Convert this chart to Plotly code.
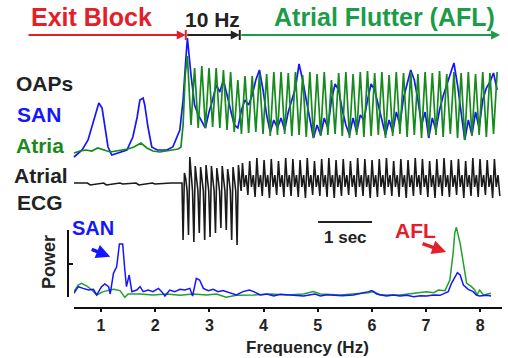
import numpy as np
import plotly.graph_objects as go

# ---------------- DATA ----------------
# Optical action potentials (time in s, amplitude in arbitrary units)
pre_green_t = [0.00, 0.11, 0.22, 0.33, 0.44, 0.56, 0.67, 0.78, 0.89, 1.00, 1.11, 1.24, 1.35,
               1.46, 1.59, 1.70, 1.81, 1.93, 1.98, 2.02, 2.06]
pre_green_v = [7, 9, 10, 9, 12, 10, 8, 9, 10, 11, 13, 17, 12, 9, 8, 9, 10, 11, 13, 35, 85]
pre_blue_t = [0.00, 0.15, 0.26, 0.35, 0.43, 0.46, 0.52, 0.57, 0.63, 0.70, 0.80, 0.98, 1.09,
              1.17, 1.22, 1.28, 1.31, 1.37, 1.44, 1.54, 1.72, 1.83, 1.96, 2.02, 2.07]
pre_blue_v = [3, 10, 20, 37, 52, 57, 52, 33, 13, 5, 7, 10, 23, 43, 60, 62, 55, 33, 13, 10,
              10, 13, 30, 60, 100]

# sampled at half-cycles of the flutter (start time, sampling interval in s)
osc_t0 = 2.10
osc_dt = 0.0667
green_osc = [104, 35, 92, 32, 94, 32, 92, 33, 92, 32, 90, 30, 88, 28, 80, 26, 84, 27, 84, 28,
             86, 26, 86, 24, 88, 25, 88, 26, 87, 24, 88, 25, 85, 23, 88, 22, 86, 24, 88, 25,
             80, 26, 87, 24, 88, 22, 86, 25, 88, 23, 89, 24, 87, 25, 88, 22, 85, 24, 88, 26,
             87, 23, 88, 25, 86, 22, 88, 24, 87, 25, 89, 23, 86, 26, 88, 22, 87, 20, 88, 24,
             86, 25, 88, 23, 87, 26, 88]
blue_osc = [122, 85, 55, 45, 38, 32, 48, 60, 75, 68,
            80, 65, 50, 35, 32, 50, 60, 55, 65, 80,
            90, 70, 45, 28, 40, 32, 42, 30, 48, 60,
            72, 96, 80, 60, 40, 22, 35, 25, 42, 32,
            60, 76, 70, 50, 35, 25, 42, 28, 45, 40,
            60, 76, 70, 55, 38, 25, 40, 28, 48, 35,
            62, 75, 90, 80, 60, 35, 48, 22, 42, 30,
            50, 64, 75, 85, 97, 75, 50, 20, 40, 25,
            48, 32, 60, 72, 78, 87, 70]

# Atrial ECG
ecg_pre_t = [0.00, 0.25, 0.30, 0.55, 0.60, 0.85, 0.90, 1.15, 1.20, 1.45, 1.50, 1.75, 1.80, 2.00]
ecg_pre_v = [0, 0, -2, 0, -2, 0, -1, 0, -2, 0, -1, 0, 0, 0]
ecg_pace_t0 = 2.02
ecg_pace_period = 0.10          # 10 Hz pacing
ecg_pace_down = [-57, -52, -59, -50, -57, -54, -50, -45, -47, -57, -62]
ecg_pace_up = [10, 26, 17, 16, 18, 17, 15, 17, 14, 16, 18]
ecg_pace_band = [4, -8]
ecg_afl_t0 = 3.12
ecg_afl_period = 0.1333
ecg_afl_up = [20, 22, 25, 23, 24, 22, 25, 24, 23, 25, 22, 24, 25, 23, 24, 22, 25, 24,
              23, 24, 25, 22, 24, 23, 25, 24, 22, 24, 25, 23, 24, 22, 25, 24, 23, 24]
ecg_afl_down = [-12, -14, -13, -15, -12, -14, -13, -14, -15, -12, -13, -14, -15, -13, -12, -14,
                -13, -15, -14, -12, -13, -14, -15, -13, -12, -14, -15, -13, -14, -12, -15, -13,
                -14, -12, -15, -13]
ecg_afl_band = [-4, 8]

# Power spectra (Hz, arbitrary power)
spec_san_f = [0.50, 0.58, 0.67, 0.77, 0.86, 0.92, 1.01, 1.07, 1.14, 1.17,
              1.23, 1.29, 1.34, 1.40, 1.44, 1.47, 1.52, 1.57, 1.66, 1.72,
              1.78, 1.87, 1.96, 2.06, 2.12, 2.18, 2.27, 2.36, 2.46, 2.55,
              2.64, 2.69, 2.76, 2.82, 2.89, 2.98, 3.07, 3.16, 3.25, 3.38,
              3.50, 3.62, 3.74, 3.82, 3.94, 4.06, 4.19, 4.31, 4.43, 4.58,
              4.74, 4.95, 5.05, 5.17, 5.29, 5.45, 5.66, 5.80, 5.94, 6.00,
              6.09, 6.27, 6.40, 6.52, 6.65, 6.77, 6.90, 7.01, 7.14, 7.26,
              7.41, 7.47, 7.53, 7.58, 7.63, 7.69, 7.78, 7.87, 7.93, 7.99,
              8.12, 8.20]
spec_san_p = [0.055, 0.154, 0.129, 0.104, 0.114, 0.030, 0.154, 0.194, 0.154, 0.045,
              0.353, 0.453, 0.791, 0.791, 0.403, 0.154, 0.328, 0.080, 0.104, 0.154,
              0.080, 0.104, 0.080, 0.129, 0.080, 0.015, 0.104, 0.080, 0.114, 0.104,
              0.129, 0.015, 0.279, 0.254, 0.129, 0.095, 0.114, 0.080, 0.095, 0.055,
              0.030, 0.080, 0.104, 0.080, 0.030, 0.045, 0.015, 0.040, 0.030, 0.020,
              0.015, 0.045, 0.015, 0.035, 0.030, 0.020, 0.030, 0.050, 0.080, 0.095,
              0.045, 0.015, 0.030, 0.015, 0.025, 0.005, 0.020, 0.015, 0.030, 0.025,
              0.080, 0.204, 0.303, 0.363, 0.328, 0.179, 0.114, 0.080, 0.030, 0.015,
              0.025, 0.015]
spec_atria_f = [0.50, 0.58, 0.64, 0.74, 0.83, 0.92, 1.04, 1.23, 1.35, 1.44, 1.50, 1.72, 1.96,
                2.21, 2.46, 2.70, 2.95, 3.13, 3.31, 3.50, 3.82, 4.13, 4.43, 4.74, 4.92, 5.05,
                5.41, 5.66, 5.94, 6.03, 6.15, 6.52, 6.70, 6.83, 7.01, 7.14, 7.23, 7.35, 7.44,
                7.50, 7.53, 7.56, 7.63, 7.69, 7.75, 7.84, 7.90, 7.94, 7.99, 8.06, 8.12, 8.20]
spec_atria_p = [0.080, 0.179, 0.204, 0.164, 0.104, 0.030, 0.080, 0.114, 0.095, -0.005, 0.045,
                0.045, 0.030, 0.045, 0.025, 0.045, 0.030, 0.045, -0.005, 0.025, 0.030, 0.045,
                0.030, 0.045, 0.080, 0.045, 0.030, 0.045, 0.065, 0.080, 0.030, 0.030, 0.045,
                0.065, 0.080, 0.065, 0.104, 0.095, 0.254, 0.652, 0.950, 1.040, 0.801, 0.502,
                0.204, 0.154, 0.104, 0.030, 0.104, 0.030, 0.045, 0.055]
freq_ticks = [1, 2, 3, 4, 5, 6, 7, 8]

# Protocol events (s)
exit_block_start = -0.87
stim_start = 2.07
afl_start = 3.07
record_end = 7.89
scalebar_t0 = 4.52
scalebar_len = 1.0

# ---------------- BUILD SERIES ----------------
osc_t = [osc_t0 + i * osc_dt for i in range(len(green_osc))]
green_t = pre_green_t + osc_t
green_v = pre_green_v + green_osc
blue_t = pre_blue_t + osc_t
blue_v = pre_blue_v + blue_osc

ecg_t = list(ecg_pre_t)
ecg_v = list(ecg_pre_v)
for i, (d, u) in enumerate(zip(ecg_pace_down, ecg_pace_up)):
    base = ecg_pace_t0 + i * ecg_pace_period
    for k, val in enumerate([d, u] + ecg_pace_band):
        ecg_t.append(base + k * ecg_pace_period / 4)
        ecg_v.append(val)
for i, (u, d) in enumerate(zip(ecg_afl_up, ecg_afl_down)):
    base = ecg_afl_t0 + i * ecg_afl_period
    for k, val in enumerate([u] + ecg_afl_band + [d]):
        ecg_t.append(base + k * ecg_afl_period / 4)
        ecg_v.append(val)

# ---------------- STYLE ----------------
W, H = 508, 358
FONT = "Liberation Sans, Arial, sans-serif"
BLUE = "#1515ff"
GREEN = "#168a1c"
GREEN_SP = "#22a02c"
GREEN_T = "#1c9c48"
RED = "#e3202a"
DARK = "#222222"

def pxx(x):
    return x / W

def pxy(y):
    return 1 - y / H

T_ORIGIN_PX = 74
PX_PER_S = 54.0

fig = go.Figure()
fig.add_trace(go.Scatter(x=blue_t, y=blue_v, xaxis="x", yaxis="y", mode="lines",
                         line=dict(color=BLUE, width=1.7), hoverinfo="skip"))
fig.add_trace(go.Scatter(x=green_t, y=green_v, xaxis="x", yaxis="y", mode="lines",
                         line=dict(color=GREEN, width=1.7), hoverinfo="skip"))
fig.add_trace(go.Scatter(x=ecg_t, y=ecg_v, xaxis="x", yaxis="y2", mode="lines",
                         line=dict(color="#1a1a1a", width=1.6), hoverinfo="skip"))
fig.add_trace(go.Scatter(x=spec_atria_f, y=spec_atria_p, xaxis="x2", yaxis="y3", mode="lines",
                         line=dict(color=GREEN_SP, width=1.5), hoverinfo="skip"))
fig.add_trace(go.Scatter(x=spec_san_f, y=spec_san_p, xaxis="x2", yaxis="y3", mode="lines",
                         line=dict(color=BLUE, width=1.5), hoverinfo="skip"))
fig.add_trace(go.Scatter(x=[None], y=[None], xaxis="x2", yaxis="y4", mode="lines",
                         hoverinfo="skip"))

t_lo = -T_ORIGIN_PX / PX_PER_S
t_hi = (W - T_ORIGIN_PX) / PX_PER_S
hz_px = 54.17
f_lo = 1 - (101 - 74) / hz_px
f_hi = 1 + (502 - 101) / hz_px

fig.update_layout(
    width=W, height=H, margin=dict(l=0, r=0, t=0, b=0),
    paper_bgcolor="white", plot_bgcolor="rgba(0,0,0,0)",
    showlegend=False,
    xaxis=dict(domain=[0, 1], range=[t_lo, t_hi], visible=False, anchor="y"),
    yaxis=dict(domain=[pxy(160), pxy(30)], range=[0, 130], visible=False, anchor="x"),
    yaxis2=dict(domain=[pxy(250), pxy(150)], range=[-67, 33], visible=False, anchor="x"),
    xaxis2=dict(domain=[pxx(74), pxx(502)], range=[f_lo, f_hi], anchor="y3",
                showline=True, linewidth=2, linecolor="#111", ticks="outside", ticklen=3,
                tickwidth=2, tickcolor="#111", tickvals=freq_ticks,
                tickfont=dict(size=16, color=DARK, family=FONT, weight="bold"),
                showgrid=False, zeroline=False),
    yaxis3=dict(domain=[pxy(307), pxy(220)], range=[-10 / 67, 77 / 67], visible=False,
                anchor="x2"),
    yaxis4=dict(domain=[pxy(297), pxy(230)], range=[0, 1], anchor="free", position=pxx(68),
                showline=True, linewidth=2, linecolor="#111", ticks="inside",
                tickvals=[0, 0.5, 1], ticklen=4, tickwidth=2, tickcolor="#111",
                showticklabels=False, showgrid=False, zeroline=False),
)

def label(text, x, y, size, color, angle=0):
    return dict(text="<b>" + text + "</b>", x=pxx(x), y=pxy(y), xref="paper", yref="paper",
                showarrow=False, xanchor="center", yanchor="middle", textangle=angle,
                font=dict(family=FONT, size=size, color=color))

annotations = [
    label("Exit Block", 91, 17, 25, RED),
    label("10 Hz", 212, 19, 21, DARK),
    label("Atrial Flutter (AFL)", 384, 17, 25, GREEN_T),
    label("OAPs", 44, 83, 21, DARK),
    label("SAN", 39, 115, 21, BLUE),
    label("Atria", 40, 145, 21, "#1b8a1b"),
    label("Atrial", 41, 175, 21, DARK),
    label("ECG", 40, 202, 21, DARK),
    label("SAN", 93, 228, 20, BLUE),
    label("AFL", 415, 230, 21, RED),
    label("1 sec", 345, 237, 17, DARK),
    label("Power", 49, 262, 18, DARK, -90),
    label("Frequency (Hz)", 307, 347, 17, DARK),
]

def tarrow(x_head, x_tail, color):
    return dict(x=x_head, y=pxy(35), xref="x", yref="paper", ax=x_tail, axref="x",
                ay=0, ayref="pixel", showarrow=True, arrowhead=2, arrowsize=0.9,
                arrowwidth=2, arrowcolor=color, text="", standoff=0)

annotations += [
    tarrow(stim_start, exit_block_start, RED),
    tarrow(afl_start, stim_start, DARK),
    tarrow(record_end, afl_start, GREEN_T),
    dict(x=1.17, y=0.60, xref="x2", yref="y3", ax=-20, ay=-8, showarrow=True, arrowhead=2,
         arrowsize=0.8, arrowwidth=3.5, arrowcolor=BLUE, text="", standoff=0),
    dict(x=7.37, y=0.67, xref="x2", yref="y3", ax=-25, ay=-9, showarrow=True, arrowhead=2,
         arrowsize=0.8, arrowwidth=3.5, arrowcolor=RED, text="", standoff=0),
]
fig.update_layout(annotations=annotations)

shapes = [
    dict(type="line", xref="x", yref="paper", x0=stim_start, x1=stim_start,
         y0=pxy(40), y1=pxy(30), line=dict(color=RED, width=2)),
    dict(type="line", xref="x", yref="paper", x0=afl_start, x1=afl_start,
         y0=pxy(40), y1=pxy(30), line=dict(color=DARK, width=2)),
    dict(type="line", xref="x", yref="paper", x0=scalebar_t0, x1=scalebar_t0 + scalebar_len,
         y0=pxy(222), y1=pxy(222), line=dict(color=DARK, width=2)),
]
fig.update_layout(shapes=shapes)

fig.write_html("out.html")
